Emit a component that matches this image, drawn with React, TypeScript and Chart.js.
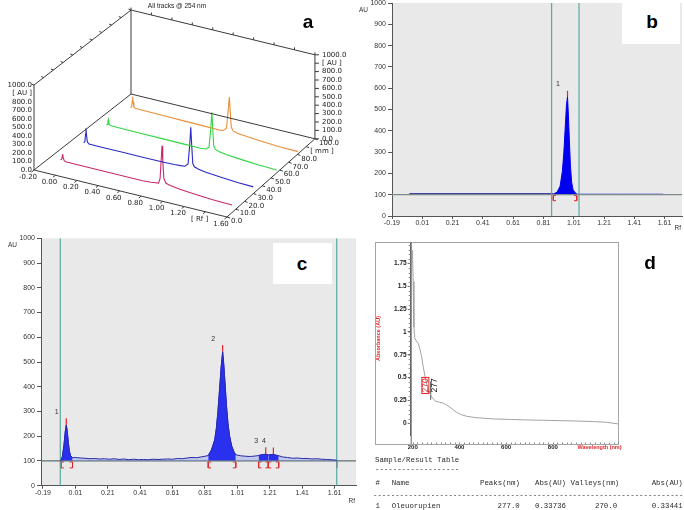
import React, { useEffect, useRef } from 'react';
import { Chart, registerables } from 'chart.js';

Chart.register(...registerables);

const SANS = '"Liberation Sans", Arial, sans-serif';
const DEJA = '"DejaVu Sans", sans-serif';
const MONO = '"Liberation Mono", "DejaVu Sans Mono", monospace';

// ================= Panel a : 3-D overview of all tracks =================
const aTitle = 'All tracks @ 254 nm';
const aRfTicks = [-0.2, 0.0, 0.2, 0.4, 0.6, 0.8, 1.0, 1.2, 1.4, 1.6];
const aRfTickLabels = ['-0.20', '0.00', '0.20', '0.40', '0.60', '0.80', '1.00', '1.20', '[ Rf ]', '1.60'];
const aMmTicks = [0, 10, 20, 30, 40, 50, 60, 70, 80, 90, 100];
const aMmTickLabels = ['0.0', '10.0', '20.0', '30.0', '40.0', '50.0', '60.0', '70.0', '80.0', '[ mm ]', '100.0'];
const aAuTicks = [0, 100, 200, 300, 400, 500, 600, 700, 800, 900, 1000];
const aAuTickLabels = ['0.0', '100.0', '200.0', '300.0', '400.0', '500.0', '600.0', '700.0', '800.0', '[ AU ]', '1000.0'];
const aTrackMm = [13, 36, 59, 82];
const aTrackColors = ['#c8296c', '#2a2ac8', '#2fd640', '#e8903a'];

const aTrack1Rf = [-0.07, -0.058, -0.052, -0.049, -0.045, -0.035, -0.02, 0.1, 0.3, 0.5, 0.7, 0.78, 0.82, 0.85, 0.865, 0.875, 0.883, 0.89, 0.9, 0.92, 0.96, 1.05, 1.2, 1.35, 1.54];
const aTrack1Au = [45, 55, 95, 118, 80, 45, 36, 34, 33, 33, 33, 38, 45, 50, 110, 330, 500, 330, 120, 70, 55, 40, 22, 10, 3];
const aTrack2Rf = [-0.06, -0.048, -0.042, -0.038, -0.033, -0.025, -0.01, 0.1, 0.3, 0.5, 0.7, 0.8, 0.86, 0.9, 0.93, 0.945, 0.956, 0.965, 0.975, 0.99, 1.03, 1.1, 1.25, 1.4, 1.55];
const aTrack2Au = [40, 60, 150, 220, 140, 60, 42, 40, 40, 40, 42, 45, 50, 55, 90, 300, 533, 320, 110, 75, 60, 45, 28, 15, 8];
const aTrack3Rf = [-0.055, -0.045, -0.04, -0.036, -0.032, -0.025, -0.01, 0.1, 0.3, 0.5, 0.7, 0.8, 0.85, 0.9, 0.93, 0.945, 0.957, 0.966, 0.975, 0.99, 1.03, 1.1, 1.25, 1.4, 1.58];
const aTrack3Au = [45, 55, 90, 114, 80, 55, 50, 48, 46, 45, 43, 42, 42, 48, 80, 280, 500, 300, 110, 70, 55, 40, 25, 12, 5];
const aTrack4Rf = [-0.035, -0.024, -0.018, -0.014, -0.01, -0.002, 0.01, 0.1, 0.3, 0.5, 0.7, 0.78, 0.817, 0.86, 0.895, 0.91, 0.923, 0.932, 0.942, 0.96, 1.0, 1.1, 1.25, 1.4, 1.59];
const aTrack4Au = [50, 65, 140, 185, 120, 65, 56, 54, 50, 46, 43, 41, 40, 45, 80, 270, 460, 290, 110, 70, 55, 42, 28, 15, 12];
const aTracksRf = [aTrack1Rf, aTrack2Rf, aTrack3Rf, aTrack4Rf];
const aTracksAu = [aTrack1Au, aTrack2Au, aTrack3Au, aTrack4Au];

// ================= Panels b, c : densitograms =================
const rfTicks = [-0.19, 0.01, 0.21, 0.41, 0.61, 0.81, 1.01, 1.21, 1.41, 1.61];
const auTicks = [0, 100, 200, 300, 400, 500, 600, 700, 800, 900, 1000];
const baselineAu = 100;

const bXMin = -0.19;
const bXMax = 1.725;
const bCursorRf = [0.864, 1.045];
const bTraceLeft: [number, number][] = [[-0.076, 103], [0.2, 103], [0.5, 103], [0.875, 103]];
const bPeak: [number, number][] = [
  [0.875, 103], [0.9, 112], [0.92, 140], [0.935, 210], [0.945, 300], [0.955, 430], [0.962, 520],
  [0.969, 560], [0.975, 470], [0.981, 360], [0.988, 240], [0.996, 160], [1.005, 125], [1.018, 110], [1.03, 104],
];
const bTraceRight: [number, number][] = [[1.03, 103], [1.3, 103], [1.6, 103]];
const bPeakNumbers = ['1'];
const bPeakStartRf = [0.875];
const bPeakEndRf = [1.03];
const bPeakMaxRf = [0.969];
const bPeakMaxAu = [560];

const cXMin = -0.202;
const cXMax = 1.742;
const cCursorRf = [-0.083, 1.623];
const cTrace: [number, number][] = [
  [-0.083, 101], [-0.079, 102], [-0.07, 118], [-0.06, 165], [-0.052, 220], [-0.046, 245], [-0.04, 220],
  [-0.034, 178], [-0.027, 140], [-0.02, 122], [-0.0075, 113],
  [0.01, 114], [0.04, 112], [0.07, 111], [0.1, 109], [0.13, 110], [0.16, 108], [0.19, 109], [0.22, 107],
  [0.25, 109], [0.28, 106], [0.31, 108], [0.34, 105], [0.37, 107], [0.4, 105], [0.43, 106], [0.46, 105],
  [0.49, 107], [0.52, 106], [0.55, 107], [0.58, 108], [0.61, 107], [0.64, 110], [0.67, 109], [0.7, 112],
  [0.73, 114], [0.76, 113], [0.79, 117], [0.81, 119],
  [0.83, 122], [0.85, 145], [0.87, 185], [0.88, 230], [0.89, 300], [0.9, 390], [0.91, 480], [0.919, 541],
  [0.926, 490], [0.935, 400], [0.943, 320], [0.952, 250], [0.962, 200], [0.975, 160], [0.99, 135], [1.0, 125],
  [1.03, 121], [1.06, 119], [1.09, 118], [1.12, 120], [1.141, 122], [1.16, 125], [1.185, 127], [1.201, 124],
  [1.215, 126], [1.232, 126], [1.25, 123], [1.265, 121],
  [1.29, 116], [1.32, 114], [1.35, 111], [1.38, 112], [1.41, 110], [1.44, 110], [1.47, 108], [1.5, 109],
  [1.53, 107], [1.56, 106], [1.59, 105], [1.623, 103],
];
const cPeakNumbers = ['1', '2', '3', '4'];
const cPeakStartRf = [-0.079, 0.83, 1.141, 1.201];
const cPeakEndRf = [-0.0075, 1.0, 1.201, 1.265];
const cPeakMaxRf = [-0.046, 0.919, 1.185, 1.232];
const cPeakMaxAu = [245, 541, 127, 126];

// ================= Panel d : UV spectrum =================
const dSpectrum: [number, number][] = [
  [197, 1.89], [199, 1.88], [202, 1.55], [205, 1.05], [209, 0.93], [216, 0.9], [224, 0.875], [231, 0.81],
  [238, 0.73], [245, 0.62], [253, 0.51], [260, 0.43], [267, 0.365], [274, 0.33], [281, 0.29], [290, 0.26],
  [300, 0.24], [315, 0.23], [331, 0.22], [345, 0.2], [360, 0.175], [375, 0.145], [388, 0.12], [405, 0.097],
  [431, 0.077], [470, 0.062], [545, 0.048], [620, 0.042], [688, 0.037], [760, 0.033], [831, 0.029],
  [900, 0.025], [974, 0.019], [1030, 0.011], [1084, -0.008],
];
const dXTicks = [200, 400, 600, 800, 1000];
const dYTicks = [0, 0.25, 0.5, 0.75, 1, 1.25, 1.5, 1.75];
const dXMin = 191.4;
const dXMax = 1083.5;
const dYMin = -0.128;
const dYMax = 1.984;
const dXTitle = 'Wavelength (nm)';
const dYTitle = 'Absorbance (AU)';
const dCompound = 'Oleuorupien';
const dPeakNm = 277.0;
const dPeakAbs = 0.33736;
const dValleyNm = 270.0;
const dValleyAbs = 0.33441;

const tableTitle = 'Sample/Result Table';
const tableHeaders = ['#', 'Name', 'Peaks(nm)', 'Abs(AU)', 'Valleys(nm)', 'Abs(AU)'];
const tableRow = ['1', dCompound, dPeakNm.toFixed(1), dPeakAbs.toFixed(5), dValleyNm.toFixed(1), dValleyAbs.toFixed(5)];

// ================= helpers =================
const RED = '#e2262a';
const TEAL = '#5ba8a3';
const pts = (arr: [number, number][]) => arr.map(([x, y]) => ({ x, y }));
const seg = (x0: number, y0: number, x1: number, y1: number) => [{ x: x0, y: y0 }, { x: x1, y: y1 }];
const lineDs = (data: any[], color: string, width: number, extra: any = {}) => ({
  data, borderColor: color, borderWidth: width, pointRadius: 0, fill: false, tension: 0, showLine: true, ...extra,
});
const BR_W = 0.018;
const BR_TOP = 96;
const BR_BOT = 72;
const bracketOpen = (rf: number) => [{ x: rf + BR_W, y: BR_TOP }, { x: rf, y: BR_TOP }, { x: rf, y: BR_BOT }, { x: rf + BR_W, y: BR_BOT }];
const bracketClose = (rf: number) => [{ x: rf - BR_W, y: BR_TOP }, { x: rf, y: BR_TOP }, { x: rf, y: BR_BOT }, { x: rf - BR_W, y: BR_BOT }];

const baseOptions = (extra: any) => ({
  responsive: false,
  animation: false,
  devicePixelRatio: 1,
  events: [],
  plugins: { legend: { display: false }, tooltip: { enabled: false } },
  elements: { point: { radius: 0 }, line: { tension: 0 } },
  ...extra,
});
const fixY = (w: number) => (s: any) => { s.width = w; s.paddingTop = 0; s.paddingBottom = 0; s.paddingLeft = 0; s.paddingRight = 0; };
const fixX = (h: number) => (s: any) => { s.height = h; s.paddingTop = 0; s.paddingBottom = 0; s.paddingLeft = 0; s.paddingRight = 0; };

// ================= panel a builder =================
function projA(rf: number, mm: number, au: number) {
  const r0 = aRfTicks[0];
  const r1 = aRfTicks[aRfTicks.length - 1];
  const t = (rf - r0) / (r1 - r0);
  const m = mm / aMmTicks[aMmTicks.length - 1];
  const a = au / aAuTicks[aAuTicks.length - 1];
  const sR = 1 - 0.047 * m;
  const sA = 1 - 0.012 * m;
  return { x: 34 + 97 * m + sR * 193 * t, y: 170 - 76 * m + sR * 47 * t - sA * 85 * a };
}

function buildA(): any {
  const R0 = aRfTicks[0], R1 = aRfTicks[aRfTicks.length - 1];
  const M0 = aMmTicks[0], M1 = aMmTicks[aMmTicks.length - 1];
  const A0 = aAuTicks[0], A1 = aAuTicks[aAuTicks.length - 1];
  const edges = [
    [[R0, M0, A0], [R1, M0, A0]],
    [[R1, M0, A0], [R1, M1, A0]],
    [[R1, M1, A0], [R0, M1, A0]],
    [[R0, M1, A0], [R0, M0, A0]],
    [[R0, M0, A0], [R0, M0, A1]],
    [[R0, M1, A0], [R0, M1, A1]],
    [[R1, M1, A0], [R1, M1, A1]],
    [[R0, M0, A1], [R0, M1, A1]],
    [[R0, M1, A1], [R1, M1, A1]],
  ];
  const datasets: any[] = edges.map((e) =>
    lineDs(e.map(([r, m, a]) => projA(r, m, a)), '#3a3a3a', 1));
  for (let i = aTrackMm.length - 1; i >= 0; i--) {
    const data = aTracksRf[i].map((rf, j) => projA(rf, aTrackMm[i], aTracksAu[i][j]));
    datasets.push(lineDs(data, aTrackColors[i], 1.1));
  }
  const plugin = {
    id: 'a3d',
    afterDraw(chart: any) {
      const { ctx } = chart;
      const X = (p: any) => chart.scales.x.getPixelForValue(p.x);
      const Y = (p: any) => chart.scales.y.getPixelForValue(p.y);
      ctx.save();
      ctx.strokeStyle = '#3a3a3a';
      ctx.lineWidth = 1;
      ctx.fillStyle = '#222';
      ctx.textBaseline = 'middle';
      // title
      ctx.font = `6.5px ${SANS}`;
      ctx.textAlign = 'center';
      ctx.fillText(aTitle, 177, 6);
      ctx.font = `7px ${DEJA}`;
      // left AU axis
      ctx.textAlign = 'right';
      aAuTicks.forEach((v, i) => {
        const p = projA(R0, M0, v);
        ctx.fillText(aAuTickLabels[i], X(p) - 2, Y(p));
      });
      // right AU axis
      ctx.textAlign = 'left';
      aAuTicks.forEach((v, i) => {
        const p = projA(R1, M1, v);
        ctx.beginPath(); ctx.moveTo(X(p), Y(p)); ctx.lineTo(X(p) + 4, Y(p)); ctx.stroke();
        ctx.fillText(aAuTickLabels[i], X(p) + 7, Y(p));
      });
      // Rf axis
      ctx.textAlign = 'center';
      aRfTicks.forEach((v, i) => {
        const p = projA(v, M0, A0);
        ctx.beginPath(); ctx.moveTo(X(p), Y(p)); ctx.lineTo(X(p) - 2.5, Y(p) + 2); ctx.stroke();
        ctx.fillText(aRfTickLabels[i], X(p) - 6, Y(p) + 7);
        const q = projA(v, M1, A1);
        ctx.beginPath(); ctx.moveTo(X(q), Y(q)); ctx.lineTo(X(q), Y(q) - 2.5); ctx.stroke();
      });
      // mm axis
      ctx.textAlign = 'left';
      aMmTicks.forEach((v, i) => {
        const p = projA(R1, v, A0);
        ctx.beginPath(); ctx.moveTo(X(p), Y(p)); ctx.lineTo(X(p) + 3, Y(p) + 1); ctx.stroke();
        ctx.fillText(aMmTickLabels[i], X(p) + 4, Y(p) + 4.5);
        const q = projA(R0, v, A1);
        ctx.beginPath(); ctx.moveTo(X(q), Y(q)); ctx.lineTo(X(q) - 2.5, Y(q) - 1); ctx.stroke();
      });
      ctx.restore();
    },
  };
  return {
    type: 'scatter',
    data: { datasets },
    options: baseOptions({
      layout: { padding: 0 },
      scales: {
        x: { type: 'linear', min: 0, max: 346, display: false },
        y: { type: 'linear', min: 0, max: 230, reverse: true, display: false },
      },
    }),
    plugins: [plugin],
  };
}

// ================= chromatogram builder (b, c) =================
function chromConfig(o: any): any {
  const plugin = {
    id: 'chrom',
    beforeDraw(chart: any) {
      const { ctx, chartArea: ca } = chart;
      ctx.save();
      ctx.fillStyle = '#e9e9e9';
      ctx.fillRect(ca.left, ca.top, ca.right - ca.left, ca.bottom - ca.top);
      ctx.restore();
    },
    afterDraw(chart: any) {
      const { ctx, chartArea: ca, scales } = chart;
      ctx.save();
      ctx.fillStyle = '#333';
      ctx.font = `6.5px ${SANS}`;
      ctx.textAlign = 'left';
      ctx.textBaseline = 'middle';
      ctx.fillText('AU', ca.left - 33, ca.top + 7);
      ctx.textAlign = 'right';
      ctx.fillText('Rf', ca.right - 1, ca.bottom + o.rfDy);
      ctx.font = `7px ${SANS}`;
      ctx.textAlign = 'center';
      o.numbers.forEach((n: string, i: number) => {
        const px = scales.x.getPixelForValue(o.maxRf[i]) - 9.5;
        const py = scales.y.getPixelForValue(o.maxAu[i]) - 13;
        ctx.fillText(n, px, py);
      });
      ctx.restore();
    },
  };
  return {
    type: 'line',
    data: { datasets: o.datasets },
    options: baseOptions({
      layout: { padding: o.pad },
      scales: {
        x: {
          type: 'linear', min: o.xMin, max: o.xMax,
          afterBuildTicks: (s: any) => { s.ticks = rfTicks.map((v) => ({ value: v })); },
          afterFit: fixX(o.xHeight),
          ticks: { autoSkip: false, maxRotation: 0, font: { size: 7, family: SANS }, color: '#333', padding: 0, callback: (v: any) => Number(v).toFixed(2) },
          grid: { drawOnChartArea: false, drawTicks: true, tickLength: 3, color: '#555' },
          border: { display: true, color: '#555', width: 1 },
        },
        y: {
          type: 'linear', min: 0, max: 1000,
          afterBuildTicks: (s: any) => { s.ticks = auTicks.map((v) => ({ value: v })); },
          afterFit: fixY(o.yWidth),
          ticks: { autoSkip: false, font: { size: 7, family: SANS }, color: '#333', padding: 2, callback: (v: any) => String(v) },
          grid: { drawOnChartArea: false, drawTicks: true, tickLength: 4, color: '#555' },
          border: { display: true, color: '#555', width: 1 },
        },
      },
    }),
    plugins: [plugin],
  };
}

function peakMarks(starts: number[], ends: number[], maxRf: number[], maxAu: number[]) {
  const ds: any[] = [];
  starts.forEach((s) => ds.push(lineDs(bracketOpen(s), RED, 1)));
  ends.forEach((e) => ds.push(lineDs(bracketClose(e), RED, 1)));
  maxRf.forEach((r, i) => ds.push(lineDs(seg(r, maxAu[i], r, maxAu[i] + 28), RED, 1.2)));
  return ds;
}

function buildB(): any {
  const datasets = [
    lineDs(seg(bXMin, baselineAu, bXMax, baselineAu), '#7b8a8a', 1.2),
    ...bCursorRf.map((r) => lineDs(seg(r, 0, r, 1000), TEAL, 1.2)),
    lineDs(pts(bPeak), '#0000f0', 1, { fill: { value: baselineAu }, backgroundColor: '#0000f0' }),
    lineDs(pts(bTraceLeft), '#0a0a8a', 1.6),
    lineDs(pts(bTraceRight), '#7272e2', 1),
    ...peakMarks(bPeakStartRf, bPeakEndRf, bPeakMaxRf, bPeakMaxAu),
  ];
  return chromConfig({
    datasets, xMin: bXMin, xMax: bXMax, pad: { left: 0, right: 2, top: 3, bottom: 0 },
    yWidth: 52, xHeight: 14, rfDy: 12, numbers: bPeakNumbers, maxRf: bPeakMaxRf, maxAu: bPeakMaxAu,
  });
}

function buildC(): any {
  const tracePts = pts(cTrace);
  const peakFills = cPeakStartRf.map((s, i) =>
    lineDs(tracePts.filter((p) => p.x >= s && p.x <= cPeakEndRf[i]), '#0000f0', 0.8, {
      fill: { value: baselineAu }, backgroundColor: '#0000f0',
    }));
  const last = cTrace[cTrace.length - 1][0];
  const datasets = [
    lineDs(tracePts, '#2a2aa8', 1, { fill: { value: baselineAu }, backgroundColor: 'rgba(120,140,235,0.35)' }),
    lineDs(seg(cXMin, baselineAu, cXMax, baselineAu), '#5e7070', 1.2),
    ...cCursorRf.map((r) => lineDs(seg(r, 0, r, 1000), TEAL, 1.2)),
    ...peakFills,
    ...peakMarks(cPeakStartRf, cPeakEndRf, cPeakMaxRf, cPeakMaxAu),
    lineDs(seg(last, BR_TOP, last, BR_BOT), RED, 1),
  ];
  return chromConfig({
    datasets, xMin: cXMin, xMax: cXMax, pad: { left: 0, right: 4, top: 8.3, bottom: 0 },
    yWidth: 41, xHeight: 24.3, rfDy: 16, numbers: cPeakNumbers, maxRf: cPeakMaxRf, maxAu: cPeakMaxAu,
  });
}

// ================= panel d builder =================
function buildD(): any {
  const plugin = {
    id: 'dDeco',
    afterDraw(chart: any) {
      const { ctx, chartArea: ca, scales: { x, y } } = chart;
      const frameLeft = ca.left - 35.7;
      const frameBottom = ca.bottom + 9;
      ctx.save();
      ctx.strokeStyle = '#a5a5a5';
      ctx.lineWidth = 1;
      ctx.strokeRect(frameLeft + 0.5, ca.top + 0.5, ca.right - frameLeft - 1, frameBottom - ca.top);
      ctx.strokeStyle = '#666';
      ctx.beginPath(); ctx.moveTo(ca.left + 0.5, ca.top); ctx.lineTo(ca.left + 0.5, frameBottom); ctx.stroke();
      // minor ticks on y axis
      ctx.strokeStyle = '#888';
      for (let k = 0; k <= 39; k++) {
        const py = Math.round(y.getPixelForValue(k * 0.05)) + 0.5;
        if (py < ca.top) break;
        ctx.beginPath(); ctx.moveTo(ca.left - 2, py); ctx.lineTo(ca.left, py); ctx.stroke();
      }
      for (let k = 0; k <= 44; k++) {
        const px = Math.round(x.getPixelForValue(200 + k * 20)) + 0.5;
        if (px > ca.right) break;
        ctx.beginPath(); ctx.moveTo(px, frameBottom); ctx.lineTo(px, frameBottom - 1.5); ctx.stroke();
      }
      // peak / valley annotations
      const ypk = y.getPixelForValue(dPeakAbs) - 7;
      const drawRot = (text: string, cx: number, cy: number, color: string, box: boolean) => {
        ctx.save();
        ctx.translate(cx, cy);
        ctx.rotate(-Math.PI / 2);
        ctx.font = `8.5px ${SANS}`;
        ctx.fillStyle = color;
        ctx.textAlign = 'center';
        ctx.textBaseline = 'middle';
        ctx.fillText(text, 0, 0);
        if (box) {
          const w = ctx.measureText(text).width;
          ctx.strokeStyle = color;
          ctx.lineWidth = 1;
          ctx.strokeRect(-w / 2 - 1, -3.5, w + 2, 7);
        }
        ctx.restore();
      };
      drawRot(dValleyNm.toFixed(0), x.getPixelForValue(dValleyNm) - 3.7, ypk, RED, true);
      drawRot(dPeakNm.toFixed(0), x.getPixelForValue(dPeakNm) + 3.8, ypk, '#111', false);
      ctx.restore();
    },
  };
  return {
    type: 'line',
    data: {
      datasets: [
        lineDs(pts(dSpectrum), '#a2a2a2', 1),
        lineDs(seg(dPeakNm, dPeakAbs - 0.08, dPeakNm, dPeakAbs + 0.12), '#555', 1),
        lineDs(seg(dValleyNm - 8, dValleyAbs + 0.01, dValleyNm + 8, dValleyAbs + 0.01), RED, 1),
      ],
    },
    options: baseOptions({
      layout: { padding: { left: 15, right: 65, top: 12, bottom: 0 } },
      scales: {
        x: {
          type: 'linear', min: dXMin, max: dXMax,
          afterBuildTicks: (s: any) => { s.ticks = dXTicks.map((v) => ({ value: v })); },
          afterFit: fixX(17),
          ticks: {
            autoSkip: false, maxRotation: 0, padding: 1,
            font: (c: any) => (c.tick && c.tick.value === 1000 ? { size: 5.5, family: SANS, weight: 'bold' } : { size: 6, family: SANS, weight: 'bold' }),
            color: (c: any) => (c.tick && c.tick.value === 1000 ? RED : '#222'),
            callback: (v: any) => (Number(v) === 1000 ? dXTitle : String(v)),
          },
          grid: { display: false },
          border: { display: false },
        },
        y: {
          type: 'linear', min: dYMin, max: dYMax,
          afterBuildTicks: (s: any) => { s.ticks = dYTicks.map((v) => ({ value: v })); },
          afterFit: fixY(35.7),
          title: { display: true, text: dYTitle, color: RED, font: { size: 5.5, family: SANS, weight: 'bold' }, padding: 0 },
          ticks: { autoSkip: false, font: { size: 6.5, family: SANS, weight: 'bold' }, color: '#222', padding: 1, callback: (v: any) => String(v) },
          grid: { drawOnChartArea: false, drawTicks: true, tickLength: 3, color: '#666' },
          border: { display: true, color: '#666', width: 1 },
        },
      },
    }),
    plugins: [plugin],
  };
}

// ================= components =================
function ChartCanvas({ left, top, width, height, build }: any) {
  const ref = useRef<HTMLCanvasElement>(null);
  useEffect(() => {
    const chart = new Chart(ref.current as HTMLCanvasElement, build());
    return () => chart.destroy();
  }, []);
  return <canvas ref={ref} width={width} height={height} style={{ position: 'absolute', left, top, width, height }} />;
}

const Txt = ({ x, y, children, style, center = true }: any) => (
  <div style={{
    position: 'absolute', left: x, top: y, transform: center ? 'translate(-50%,-50%)' : 'translateY(-50%)',
    whiteSpace: 'pre', lineHeight: 1, ...style,
  }}>{children}</div>
);

const letterStyle = { font: `bold 19px ${SANS}`, color: '#000' };
const monoStyle = { font: `7.4px ${MONO}`, color: '#2a2a2a' };
const headerX = [375.5, 391.7, 480, 535, 570.5, 651.7];
const rowX = [375.5, 391.7, 497.6, 535, 595, 651.7];

export default function App() {
  return (
    <div style={{ position: 'absolute', left: 0, top: 0, width: 684, height: 510, background: '#fff', overflow: 'hidden' }}>
      <ChartCanvas left={0} top={0} width={346} height={230} build={buildA} />
      <ChartCanvas left={340} top={0} width={344} height={230} build={buildB} />
      <ChartCanvas left={0} top={230} width={360} height={280} build={buildC} />
      <ChartCanvas left={360} top={230} width={324} height={222} build={buildD} />

      <Txt x={308} y={22} style={letterStyle}>a</Txt>
      <div style={{ position: 'absolute', left: 622, top: 0, width: 58, height: 44, background: '#fff' }} />
      <Txt x={652} y={22} style={letterStyle}>b</Txt>
      <div style={{ position: 'absolute', left: 273, top: 243, width: 59, height: 41, background: '#fff' }} />
      <Txt x={302} y={264} style={letterStyle}>c</Txt>
      <Txt x={650} y={263} style={letterStyle}>d</Txt>

      <Txt x={375} y={460} center={false} style={monoStyle}>{tableTitle}</Txt>
      <Txt x={375} y={469} center={false} style={monoStyle}>{'-'.repeat(tableTitle.length)}</Txt>
      {tableHeaders.map((h, i) => (
        <Txt key={'h' + i} x={headerX[i]} y={483.3} center={false} style={monoStyle}>{h}</Txt>
      ))}
      <Txt x={373} y={494.5} center={false} style={monoStyle}>{'-'.repeat(70)}</Txt>
      {tableRow.map((c, i) => (
        <Txt key={'r' + i} x={rowX[i]} y={505.5} center={false} style={monoStyle}>{c}</Txt>
      ))}
    </div>
  );
}
